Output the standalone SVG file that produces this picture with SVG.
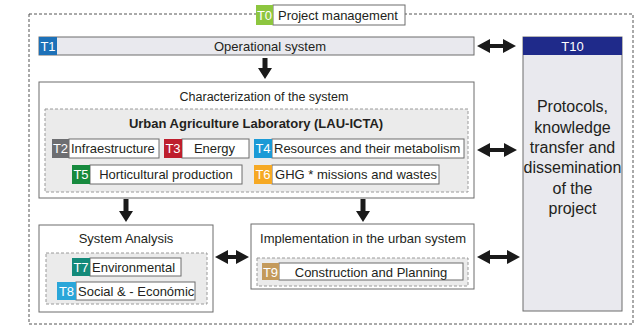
<svg xmlns="http://www.w3.org/2000/svg" width="641" height="326" viewBox="0 0 641 326">
<style>
text{font-family:"Liberation Sans",Arial,sans-serif;font-size:13px;fill:#231f20}
.tag{fill:#fff;text-anchor:middle}
.c{text-anchor:middle}
.big{font-size:16px}
.sm{font-size:12.5px}
.b{font-weight:bold}
.box{fill:#fff;stroke:#6d6d6d;stroke-width:1}
.gbox{fill:#e9e9ee;stroke:#6d6d6d;stroke-width:1}
.dash{fill:#ebebeb;stroke:#9a9a9a;stroke-width:1;stroke-dasharray:3 2}
.wl{fill:#fff;stroke:#6d6d6d;stroke-width:1}
.arr{fill:#1a1a1a}
</style>
<rect id="frame" x="29" y="14" width="604" height="310" fill="none" stroke="#555" stroke-width="1" stroke-dasharray="3 2"/>
<g id="T0">
<rect x="273" y="5" width="132" height="20" class="wl"/>
<rect x="256" y="5" width="17" height="20" fill="#8dc63f"/>
<text x="264.5" y="20" class="tag">T0</text>
<text x="278" y="20">Project management</text>
</g>
<g id="T1">
<rect x="39" y="37" width="435" height="18" class="gbox"/>
<rect x="39" y="37" width="18" height="18" fill="#1d71b8"/>
<text x="48" y="51" class="tag">T1</text>
<text x="270" y="51" class="c">Operational system</text>
</g>
<g id="T10">
<rect x="523" y="37" width="99" height="274" class="gbox"/>
<rect x="523" y="37" width="99" height="18" fill="#1f2a8a"/>
<text x="572.5" y="51" class="tag">T10</text>
<text x="572.5" y="112" class="c big">Protocols,</text>
<text x="572.5" y="132.5" class="c big">knowledge</text>
<text x="572.5" y="153" class="c big">transfer and</text>
<text x="572.5" y="173" class="c big">dissemination</text>
<text x="572.5" y="193.5" class="c big">of the</text>
<text x="572.5" y="214" class="c big">project</text>
</g>
<g id="characterization">
<rect x="39" y="82" width="435" height="116" class="box"/>
<text x="264" y="101" class="c sm">Characterization of the system</text>
<rect x="45" y="109" width="423" height="83" class="dash"/>
<text x="256" y="128" class="c b">Urban Agriculture Laboratory (LAU-ICTA)</text>
</g>
<g id="T2">
<rect x="69" y="139" width="90" height="19" class="wl"/>
<rect x="52" y="139" width="17" height="19" fill="#6d6e71"/>
<text x="60.5" y="153" class="tag">T2</text>
<text x="71" y="153">Infraestructure</text>
</g>
<g id="T3">
<rect x="182" y="139" width="67" height="19" class="wl"/>
<rect x="164" y="139" width="18" height="19" fill="#be1e2d"/>
<text x="173" y="153" class="tag">T3</text>
<text x="214.5" y="153" class="c">Energy</text>
</g>
<g id="T4">
<rect x="272" y="139" width="192" height="19" class="wl"/>
<rect x="254" y="139" width="18" height="19" fill="#1b9ad6"/>
<text x="263" y="153" class="tag">T4</text>
<text x="274" y="153">Resources and their metabolism</text>
</g>
<g id="T5">
<rect x="90" y="165" width="152" height="19" class="wl"/>
<rect x="72" y="165" width="18" height="19" fill="#178a3e"/>
<text x="81" y="179" class="tag">T5</text>
<text x="166" y="179" class="c">Horticultural production</text>
</g>
<g id="T6">
<rect x="272" y="165" width="167" height="19" class="wl"/>
<rect x="254" y="165" width="18" height="19" fill="#f6a924"/>
<text x="263" y="179" class="tag">T6</text>
<text x="356" y="179" class="c">GHG * missions and wastes</text>
</g>
<g id="system-analysis">
<rect x="39" y="225" width="174" height="87" class="box"/>
<text x="126" y="243" class="c">System Analysis</text>
<rect x="46" y="253" width="161" height="51" class="dash"/>
</g>
<g id="T7">
<rect x="90" y="258" width="91" height="18" class="wl"/>
<rect x="72" y="258" width="18" height="18" fill="#138a7a"/>
<text x="81" y="272" class="tag">T7</text>
<text x="92" y="272">Environmental</text>
</g>
<g id="T8">
<rect x="76" y="282" width="119" height="18" class="wl"/>
<rect x="57" y="282" width="19" height="18" fill="#2aa6d9"/>
<text x="66.5" y="296" class="tag">T8</text>
<text x="78" y="296">Social &amp; - Económic</text>
</g>
<g id="implementation">
<rect x="251" y="224" width="223" height="65" class="box"/>
<text x="363" y="243" class="c">Implementation in the urban system</text>
<rect x="257" y="258" width="211" height="28" class="dash"/>
</g>
<g id="T9">
<rect x="279" y="263" width="184" height="17" class="wl"/>
<rect x="262" y="263" width="17" height="17" fill="#c49a5b"/>
<text x="270.5" y="276.5" class="tag">T9</text>
<text x="371" y="276.5" class="c">Construction and Planning</text>
</g>
<g id="connectors" class="arr">
<path d="M262.5 58 H267.5 V68 H272 L265 79 L258 68 H262.5 Z"/>
<path d="M123.5 199 H128.5 V211 H133 L126 222 L119 211 H123.5 Z"/>
<path d="M360.5 199 H365.5 V211 H370 L363 222 L356 211 H360.5 Z"/>
<path d="M477 46 L490 39 V44 H503 V39 L516 46 L503 53 V48 H490 V53 Z"/>
<path d="M477 150 L490 143 V148 H504 V143 L517 150 L504 157 V152 H490 V157 Z"/>
<path d="M215 257 L228 250 V255 H236 V250 L249 257 L236 264 V259 H228 V264 Z"/>
<path d="M477 257 L490 250 V255 H507 V250 L520 257 L507 264 V259 H490 V264 Z"/>
</g>
</svg>
